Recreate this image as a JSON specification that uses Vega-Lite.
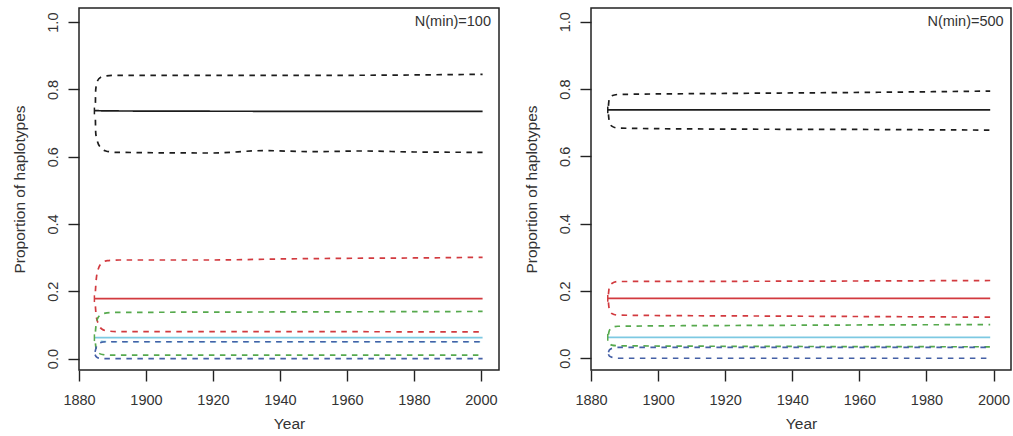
{
  "$schema": "https://vega.github.io/schema/vega-lite/v6.json",
  "padding": {"left": 11, "top": 7, "right": 0, "bottom": 0},
  "background": "white",
  "config": {
    "view": {"stroke": "#222", "strokeWidth": 1.5},
    "font": "Liberation Sans",
    "axis": {
      "domain": false, "grid": false, "labelFlush": false, "labelOverlap": false,
      "tickColor": "#222", "tickSize": 11, "tickWidth": 1.4,
      "labelFont": "Liberation Sans", "labelFontSize": 14.5, "labelColor": "#333",
      "titleFont": "Liberation Sans", "titleFontSize": 15.5, "titleFontWeight": "normal", "titleColor": "#333"
    }
  },
  "datasets": {
    "lines": [
      {"panel": "L", "id": "L_blk_med", "s": "blk", "dash": "solid", "year": 1884.6, "v": 0.737},
      {"panel": "L", "id": "L_blk_med", "s": "blk", "dash": "solid", "year": 1890, "v": 0.736},
      {"panel": "L", "id": "L_blk_med", "s": "blk", "dash": "solid", "year": 1940, "v": 0.735},
      {"panel": "L", "id": "L_blk_med", "s": "blk", "dash": "solid", "year": 2000.5, "v": 0.735},
      {"panel": "L", "id": "L_blk_hi", "s": "blk", "dash": "dashed", "year": 1884.9, "v": 0.76},
      {"panel": "L", "id": "L_blk_hi", "s": "blk", "dash": "dashed", "year": 1885.0, "v": 0.8},
      {"panel": "L", "id": "L_blk_hi", "s": "blk", "dash": "dashed", "year": 1885.5, "v": 0.825},
      {"panel": "L", "id": "L_blk_hi", "s": "blk", "dash": "dashed", "year": 1886.5, "v": 0.836},
      {"panel": "L", "id": "L_blk_hi", "s": "blk", "dash": "dashed", "year": 1888, "v": 0.84},
      {"panel": "L", "id": "L_blk_hi", "s": "blk", "dash": "dashed", "year": 1891, "v": 0.842},
      {"panel": "L", "id": "L_blk_hi", "s": "blk", "dash": "dashed", "year": 1920, "v": 0.842},
      {"panel": "L", "id": "L_blk_hi", "s": "blk", "dash": "dashed", "year": 1960, "v": 0.842},
      {"panel": "L", "id": "L_blk_hi", "s": "blk", "dash": "dashed", "year": 1980, "v": 0.843},
      {"panel": "L", "id": "L_blk_hi", "s": "blk", "dash": "dashed", "year": 2000.5, "v": 0.845},
      {"panel": "L", "id": "L_blk_lo", "s": "blk", "dash": "dashed", "year": 1884.9, "v": 0.71},
      {"panel": "L", "id": "L_blk_lo", "s": "blk", "dash": "dashed", "year": 1885.0, "v": 0.67},
      {"panel": "L", "id": "L_blk_lo", "s": "blk", "dash": "dashed", "year": 1885.5, "v": 0.645},
      {"panel": "L", "id": "L_blk_lo", "s": "blk", "dash": "dashed", "year": 1886.5, "v": 0.627},
      {"panel": "L", "id": "L_blk_lo", "s": "blk", "dash": "dashed", "year": 1888, "v": 0.617},
      {"panel": "L", "id": "L_blk_lo", "s": "blk", "dash": "dashed", "year": 1891, "v": 0.613},
      {"panel": "L", "id": "L_blk_lo", "s": "blk", "dash": "dashed", "year": 1920, "v": 0.611},
      {"panel": "L", "id": "L_blk_lo", "s": "blk", "dash": "dashed", "year": 1935, "v": 0.618},
      {"panel": "L", "id": "L_blk_lo", "s": "blk", "dash": "dashed", "year": 1950, "v": 0.615},
      {"panel": "L", "id": "L_blk_lo", "s": "blk", "dash": "dashed", "year": 1965, "v": 0.617},
      {"panel": "L", "id": "L_blk_lo", "s": "blk", "dash": "dashed", "year": 1980, "v": 0.614},
      {"panel": "L", "id": "L_blk_lo", "s": "blk", "dash": "dashed", "year": 2000.5, "v": 0.613},
      {"panel": "L", "id": "L_red_med", "s": "red", "dash": "solid", "year": 1884.6, "v": 0.178},
      {"panel": "L", "id": "L_red_med", "s": "red", "dash": "solid", "year": 2000.5, "v": 0.178},
      {"panel": "L", "id": "L_red_hi", "s": "red", "dash": "dashed", "year": 1884.9, "v": 0.2},
      {"panel": "L", "id": "L_red_hi", "s": "red", "dash": "dashed", "year": 1885.1, "v": 0.23},
      {"panel": "L", "id": "L_red_hi", "s": "red", "dash": "dashed", "year": 1885.7, "v": 0.265},
      {"panel": "L", "id": "L_red_hi", "s": "red", "dash": "dashed", "year": 1886.8, "v": 0.284},
      {"panel": "L", "id": "L_red_hi", "s": "red", "dash": "dashed", "year": 1888.5, "v": 0.291},
      {"panel": "L", "id": "L_red_hi", "s": "red", "dash": "dashed", "year": 1892, "v": 0.293},
      {"panel": "L", "id": "L_red_hi", "s": "red", "dash": "dashed", "year": 1920, "v": 0.293},
      {"panel": "L", "id": "L_red_hi", "s": "red", "dash": "dashed", "year": 1940, "v": 0.296},
      {"panel": "L", "id": "L_red_hi", "s": "red", "dash": "dashed", "year": 1960, "v": 0.298},
      {"panel": "L", "id": "L_red_hi", "s": "red", "dash": "dashed", "year": 1980, "v": 0.299},
      {"panel": "L", "id": "L_red_hi", "s": "red", "dash": "dashed", "year": 2000.5, "v": 0.301},
      {"panel": "L", "id": "L_red_lo", "s": "red", "dash": "dashed", "year": 1884.9, "v": 0.155},
      {"panel": "L", "id": "L_red_lo", "s": "red", "dash": "dashed", "year": 1885.1, "v": 0.13},
      {"panel": "L", "id": "L_red_lo", "s": "red", "dash": "dashed", "year": 1885.7, "v": 0.105},
      {"panel": "L", "id": "L_red_lo", "s": "red", "dash": "dashed", "year": 1886.8, "v": 0.088},
      {"panel": "L", "id": "L_red_lo", "s": "red", "dash": "dashed", "year": 1888.5, "v": 0.082},
      {"panel": "L", "id": "L_red_lo", "s": "red", "dash": "dashed", "year": 1892, "v": 0.08},
      {"panel": "L", "id": "L_red_lo", "s": "red", "dash": "dashed", "year": 1940, "v": 0.08},
      {"panel": "L", "id": "L_red_lo", "s": "red", "dash": "dashed", "year": 2000.5, "v": 0.079},
      {"panel": "L", "id": "L_grn_hi", "s": "grn", "dash": "dashed", "year": 1884.9, "v": 0.08},
      {"panel": "L", "id": "L_grn_hi", "s": "grn", "dash": "dashed", "year": 1885.1, "v": 0.1},
      {"panel": "L", "id": "L_grn_hi", "s": "grn", "dash": "dashed", "year": 1885.7, "v": 0.122},
      {"panel": "L", "id": "L_grn_hi", "s": "grn", "dash": "dashed", "year": 1887, "v": 0.133},
      {"panel": "L", "id": "L_grn_hi", "s": "grn", "dash": "dashed", "year": 1890, "v": 0.137},
      {"panel": "L", "id": "L_grn_hi", "s": "grn", "dash": "dashed", "year": 1920, "v": 0.138},
      {"panel": "L", "id": "L_grn_hi", "s": "grn", "dash": "dashed", "year": 1960, "v": 0.139},
      {"panel": "L", "id": "L_grn_hi", "s": "grn", "dash": "dashed", "year": 2000.5, "v": 0.14},
      {"panel": "L", "id": "L_grn_lo", "s": "grn", "dash": "dashed", "year": 1884.9, "v": 0.045},
      {"panel": "L", "id": "L_grn_lo", "s": "grn", "dash": "dashed", "year": 1885.1, "v": 0.03},
      {"panel": "L", "id": "L_grn_lo", "s": "grn", "dash": "dashed", "year": 1885.7, "v": 0.018},
      {"panel": "L", "id": "L_grn_lo", "s": "grn", "dash": "dashed", "year": 1887, "v": 0.012},
      {"panel": "L", "id": "L_grn_lo", "s": "grn", "dash": "dashed", "year": 1890, "v": 0.01},
      {"panel": "L", "id": "L_grn_lo", "s": "grn", "dash": "dashed", "year": 2000.5, "v": 0.01},
      {"panel": "L", "id": "L_cyn_med", "s": "cyn", "dash": "solid", "year": 1884.6, "v": 0.062},
      {"panel": "L", "id": "L_cyn_med", "s": "cyn", "dash": "solid", "year": 2000.5, "v": 0.062},
      {"panel": "L", "id": "L_cyn_hi", "s": "cyn", "dash": "dashed2", "year": 1885.0, "v": 0.058},
      {"panel": "L", "id": "L_cyn_hi", "s": "cyn", "dash": "dashed2", "year": 1886.5, "v": 0.051},
      {"panel": "L", "id": "L_cyn_hi", "s": "cyn", "dash": "dashed2", "year": 1889, "v": 0.05},
      {"panel": "L", "id": "L_cyn_hi", "s": "cyn", "dash": "dashed2", "year": 2000.5, "v": 0.05},
      {"panel": "L", "id": "L_blu_hi", "s": "blu", "dash": "dashed", "year": 1884.8, "v": 0.02},
      {"panel": "L", "id": "L_blu_hi", "s": "blu", "dash": "dashed", "year": 1885.2, "v": 0.035},
      {"panel": "L", "id": "L_blu_hi", "s": "blu", "dash": "dashed", "year": 1886, "v": 0.046},
      {"panel": "L", "id": "L_blu_hi", "s": "blu", "dash": "dashed", "year": 1888, "v": 0.05},
      {"panel": "L", "id": "L_blu_hi", "s": "blu", "dash": "dashed", "year": 2000.5, "v": 0.05},
      {"panel": "L", "id": "L_blu_lo", "s": "blu", "dash": "dashed", "year": 1884.8, "v": 0.012},
      {"panel": "L", "id": "L_blu_lo", "s": "blu", "dash": "dashed", "year": 1885.2, "v": 0.005},
      {"panel": "L", "id": "L_blu_lo", "s": "blu", "dash": "dashed", "year": 1886, "v": 0.001},
      {"panel": "L", "id": "L_blu_lo", "s": "blu", "dash": "dashed", "year": 1888, "v": 0.0},
      {"panel": "L", "id": "L_blu_lo", "s": "blu", "dash": "dashed", "year": 2000.5, "v": 0.0},

      {"panel": "R", "id": "R_blk_med", "s": "blk", "dash": "solid", "year": 1885, "v": 0.738},
      {"panel": "R", "id": "R_blk_med", "s": "blk", "dash": "solid", "year": 1999, "v": 0.738},
      {"panel": "R", "id": "R_blk_hi", "s": "blk", "dash": "dashed", "year": 1885.2, "v": 0.75},
      {"panel": "R", "id": "R_blk_hi", "s": "blk", "dash": "dashed", "year": 1885.4, "v": 0.768},
      {"panel": "R", "id": "R_blk_hi", "s": "blk", "dash": "dashed", "year": 1886.2, "v": 0.78},
      {"panel": "R", "id": "R_blk_hi", "s": "blk", "dash": "dashed", "year": 1888, "v": 0.784},
      {"panel": "R", "id": "R_blk_hi", "s": "blk", "dash": "dashed", "year": 1920, "v": 0.787},
      {"panel": "R", "id": "R_blk_hi", "s": "blk", "dash": "dashed", "year": 1960, "v": 0.79},
      {"panel": "R", "id": "R_blk_hi", "s": "blk", "dash": "dashed", "year": 1999, "v": 0.794},
      {"panel": "R", "id": "R_blk_lo", "s": "blk", "dash": "dashed", "year": 1885.2, "v": 0.725},
      {"panel": "R", "id": "R_blk_lo", "s": "blk", "dash": "dashed", "year": 1885.4, "v": 0.707},
      {"panel": "R", "id": "R_blk_lo", "s": "blk", "dash": "dashed", "year": 1886.2, "v": 0.69},
      {"panel": "R", "id": "R_blk_lo", "s": "blk", "dash": "dashed", "year": 1888, "v": 0.684},
      {"panel": "R", "id": "R_blk_lo", "s": "blk", "dash": "dashed", "year": 1920, "v": 0.681},
      {"panel": "R", "id": "R_blk_lo", "s": "blk", "dash": "dashed", "year": 1960, "v": 0.68},
      {"panel": "R", "id": "R_blk_lo", "s": "blk", "dash": "dashed", "year": 1999, "v": 0.678},
      {"panel": "R", "id": "R_red_med", "s": "red", "dash": "solid", "year": 1885, "v": 0.178},
      {"panel": "R", "id": "R_red_med", "s": "red", "dash": "solid", "year": 1999, "v": 0.178},
      {"panel": "R", "id": "R_red_hi", "s": "red", "dash": "dashed", "year": 1885.2, "v": 0.19},
      {"panel": "R", "id": "R_red_hi", "s": "red", "dash": "dashed", "year": 1885.4, "v": 0.208},
      {"panel": "R", "id": "R_red_hi", "s": "red", "dash": "dashed", "year": 1886.2, "v": 0.222},
      {"panel": "R", "id": "R_red_hi", "s": "red", "dash": "dashed", "year": 1888, "v": 0.228},
      {"panel": "R", "id": "R_red_hi", "s": "red", "dash": "dashed", "year": 1940, "v": 0.229},
      {"panel": "R", "id": "R_red_hi", "s": "red", "dash": "dashed", "year": 1999, "v": 0.231},
      {"panel": "R", "id": "R_red_lo", "s": "red", "dash": "dashed", "year": 1885.2, "v": 0.166},
      {"panel": "R", "id": "R_red_lo", "s": "red", "dash": "dashed", "year": 1885.4, "v": 0.148},
      {"panel": "R", "id": "R_red_lo", "s": "red", "dash": "dashed", "year": 1886.2, "v": 0.133},
      {"panel": "R", "id": "R_red_lo", "s": "red", "dash": "dashed", "year": 1888, "v": 0.128},
      {"panel": "R", "id": "R_red_lo", "s": "red", "dash": "dashed", "year": 1940, "v": 0.125},
      {"panel": "R", "id": "R_red_lo", "s": "red", "dash": "dashed", "year": 1999, "v": 0.122},
      {"panel": "R", "id": "R_grn_hi", "s": "grn", "dash": "dashed", "year": 1885.2, "v": 0.07},
      {"panel": "R", "id": "R_grn_hi", "s": "grn", "dash": "dashed", "year": 1885.4, "v": 0.08},
      {"panel": "R", "id": "R_grn_hi", "s": "grn", "dash": "dashed", "year": 1886.2, "v": 0.091},
      {"panel": "R", "id": "R_grn_hi", "s": "grn", "dash": "dashed", "year": 1888, "v": 0.095},
      {"panel": "R", "id": "R_grn_hi", "s": "grn", "dash": "dashed", "year": 1940, "v": 0.098},
      {"panel": "R", "id": "R_grn_hi", "s": "grn", "dash": "dashed", "year": 1999, "v": 0.1},
      {"panel": "R", "id": "R_grn_lo", "s": "grn", "dash": "dashed2", "year": 1885.2, "v": 0.055},
      {"panel": "R", "id": "R_grn_lo", "s": "grn", "dash": "dashed2", "year": 1885.4, "v": 0.045},
      {"panel": "R", "id": "R_grn_lo", "s": "grn", "dash": "dashed2", "year": 1886.2, "v": 0.039},
      {"panel": "R", "id": "R_grn_lo", "s": "grn", "dash": "dashed2", "year": 1888, "v": 0.037},
      {"panel": "R", "id": "R_grn_lo", "s": "grn", "dash": "dashed2", "year": 1940, "v": 0.035},
      {"panel": "R", "id": "R_grn_lo", "s": "grn", "dash": "dashed2", "year": 1999, "v": 0.034},
      {"panel": "R", "id": "R_cyn_med", "s": "cyn", "dash": "solid", "year": 1885, "v": 0.062},
      {"panel": "R", "id": "R_cyn_med", "s": "cyn", "dash": "solid", "year": 1999, "v": 0.062},
      {"panel": "R", "id": "R_blu_hi", "s": "blu", "dash": "dashed", "year": 1885.2, "v": 0.018},
      {"panel": "R", "id": "R_blu_hi", "s": "blu", "dash": "dashed", "year": 1885.5, "v": 0.025},
      {"panel": "R", "id": "R_blu_hi", "s": "blu", "dash": "dashed", "year": 1886.5, "v": 0.03},
      {"panel": "R", "id": "R_blu_hi", "s": "blu", "dash": "dashed", "year": 1888, "v": 0.032},
      {"panel": "R", "id": "R_blu_hi", "s": "blu", "dash": "dashed", "year": 1999, "v": 0.032},
      {"panel": "R", "id": "R_blu_lo", "s": "blu", "dash": "dashed", "year": 1885.2, "v": 0.012},
      {"panel": "R", "id": "R_blu_lo", "s": "blu", "dash": "dashed", "year": 1885.5, "v": 0.006},
      {"panel": "R", "id": "R_blu_lo", "s": "blu", "dash": "dashed", "year": 1886.5, "v": 0.002},
      {"panel": "R", "id": "R_blu_lo", "s": "blu", "dash": "dashed", "year": 1888, "v": 0.0},
      {"panel": "R", "id": "R_blu_lo", "s": "blu", "dash": "dashed", "year": 1999, "v": 0.0}
    ],
    "caps": [
      {"panel": "L", "s": "blk", "year": 1884.6, "lo": 0.726, "hi": 0.746},
      {"panel": "L", "s": "red", "year": 1884.6, "lo": 0.168, "hi": 0.188},
      {"panel": "L", "s": "grn", "year": 1884.6, "lo": 0.052, "hi": 0.072},
      {"panel": "R", "s": "blk", "year": 1885, "lo": 0.728, "hi": 0.748},
      {"panel": "R", "s": "red", "year": 1885, "lo": 0.168, "hi": 0.188},
      {"panel": "R", "s": "grn", "year": 1885, "lo": 0.052, "hi": 0.072}
    ],
    "labels": [
      {"panel": "L", "text": "N(min)=100", "year": 2003, "v": 1.0},
      {"panel": "R", "text": "N(min)=500", "year": 2003, "v": 1.0}
    ]
  },
  "spacing": 23,
  "hconcat": [
    {
      "width": 420, "height": 362,
      "layer": [
        {
          "data": {"name": "lines"},
          "transform": [{"filter": "datum.panel === 'L'"}],
          "mark": {"type": "line", "strokeWidth": 1.7, "interpolate": "monotone", "clip": true},
          "encoding": {
            "x": {"field": "year", "type": "quantitative", "scale": {"domain": [1880, 2005.4], "nice": false, "zero": false},
                  "axis": {"values": [1880, 1900, 1920, 1940, 1960, 1980, 2000], "format": "d", "title": "Year", "labelPadding": 12, "titlePadding": 10}},
            "y": {"field": "v", "type": "quantitative", "scale": {"domain": [-0.034, 1.042], "nice": false, "zero": false},
                  "axis": {"values": [0, 0.2, 0.4, 0.6, 0.8, 1.0], "format": ".1f", "labelAngle": 270, "labelPadding": 8, "title": "Proportion of haplotypes", "titlePadding": 18}},
            "color": {"field": "s", "type": "nominal", "legend": null,
                      "scale": {"domain": ["blk", "red", "grn", "cyn", "blu"], "range": ["#1c1c1c", "#d23a3f", "#56a94d", "#7dc9e2", "#4560a6"]}},
            "strokeDash": {"field": "dash", "type": "nominal", "legend": null,
                           "scale": {"domain": ["solid", "dashed", "dashed2"], "range": [[1, 0], [5.5, 5.5], [0, 5.5, 5.5, 0]]}},
            "detail": {"field": "id"}
          }
        },
        {
          "data": {"name": "caps"},
          "transform": [{"filter": "datum.panel === 'L'"}],
          "mark": {"type": "rule", "strokeWidth": 1.5},
          "encoding": {
            "x": {"field": "year", "type": "quantitative"},
            "y": {"field": "lo", "type": "quantitative"},
            "y2": {"field": "hi"},
            "color": {"field": "s", "type": "nominal", "legend": null}
          }
        },
        {
          "data": {"name": "labels"},
          "transform": [{"filter": "datum.panel === 'L'"}],
          "mark": {"type": "text", "align": "right", "baseline": "middle", "fontSize": 14.5, "color": "#333", "font": "Liberation Sans"},
          "encoding": {
            "x": {"field": "year", "type": "quantitative"},
            "y": {"field": "v", "type": "quantitative"},
            "text": {"field": "text"}
          }
        }
      ]
    },
    {
      "width": 420, "height": 362,
      "layer": [
        {
          "data": {"name": "lines"},
          "transform": [{"filter": "datum.panel === 'R'"}],
          "mark": {"type": "line", "strokeWidth": 1.7, "interpolate": "monotone", "clip": true},
          "encoding": {
            "x": {"field": "year", "type": "quantitative", "scale": {"domain": [1880, 2005.2], "nice": false, "zero": false},
                  "axis": {"values": [1880, 1900, 1920, 1940, 1960, 1980, 2000], "format": "d", "title": "Year", "labelPadding": 12, "titlePadding": 10}},
            "y": {"field": "v", "type": "quantitative", "scale": {"domain": [-0.035, 1.041], "nice": false, "zero": false},
                  "axis": {"values": [0, 0.2, 0.4, 0.6, 0.8, 1.0], "format": ".1f", "labelAngle": 270, "labelPadding": 8, "title": "Proportion of haplotypes", "titlePadding": 18}},
            "color": {"field": "s", "type": "nominal", "legend": null,
                      "scale": {"domain": ["blk", "red", "grn", "cyn", "blu"], "range": ["#1c1c1c", "#d23a3f", "#56a94d", "#7dc9e2", "#4560a6"]}},
            "strokeDash": {"field": "dash", "type": "nominal", "legend": null,
                           "scale": {"domain": ["solid", "dashed", "dashed2"], "range": [[1, 0], [5.5, 5.5], [0, 5.5, 5.5, 0]]}},
            "detail": {"field": "id"}
          }
        },
        {
          "data": {"name": "caps"},
          "transform": [{"filter": "datum.panel === 'R'"}],
          "mark": {"type": "rule", "strokeWidth": 1.5},
          "encoding": {
            "x": {"field": "year", "type": "quantitative"},
            "y": {"field": "lo", "type": "quantitative"},
            "y2": {"field": "hi"},
            "color": {"field": "s", "type": "nominal", "legend": null}
          }
        },
        {
          "data": {"name": "labels"},
          "transform": [{"filter": "datum.panel === 'R'"}],
          "mark": {"type": "text", "align": "right", "baseline": "middle", "fontSize": 14.5, "color": "#333", "font": "Liberation Sans"},
          "encoding": {
            "x": {"field": "year", "type": "quantitative"},
            "y": {"field": "v", "type": "quantitative"},
            "text": {"field": "text"}
          }
        }
      ]
    }
  ]
}
